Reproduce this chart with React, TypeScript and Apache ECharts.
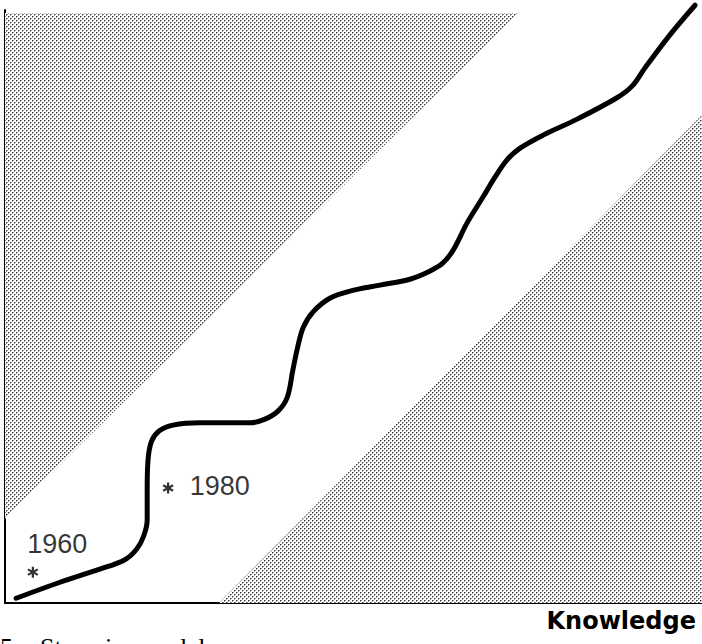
import React, { useEffect, useRef } from "react";
import * as echarts from "echarts";

// Staircase curve (knowledge on x, hidden y scale 0..100)
const curveX = [1.6, 7.9, 13.6, 17.2, 18.9, 19.9, 20.4, 20.4, 20.5, 21.0, 22.1, 24.1, 28.0, 35.2, 37.3, 39.2, 40.5, 41.3, 42.0, 42.8, 44.2, 46.6, 49.5, 53.8, 58.1, 61.0, 62.8, 64.3, 66.3, 68.6, 70.3, 72.0, 73.9, 77.2, 82.1, 87.8, 90.0, 91.8, 95.4, 99.0];
const curveY = [0.8, 3.5, 5.7, 7.3, 9.1, 11.3, 14.0, 19.1, 23.8, 27.2, 29.0, 30.0, 30.4, 30.4, 31.0, 32.4, 34.7, 39.3, 43.2, 46.5, 49.1, 51.4, 52.6, 53.6, 54.6, 56.0, 57.3, 59.5, 64.1, 68.5, 71.8, 74.7, 76.7, 78.9, 81.6, 85.2, 87.2, 90.2, 95.8, 100.8];

// Shaded (excluded) regions
const upperBandX = [0, 0, 73.7];
const upperBandY = [14.2, 99.5, 99.5];
const lowerBandX = [30.7, 100, 100];
const lowerBandY = [0, 0, 82.3];

// Year markers
const markerNames = ["1960", "1980"];
const markerX = [4.0, 23.4];
const markerY = [5.2, 19.4];
const labelX = [3.2, 26.5];
const labelY = [10.0, 19.7];

const xAxisTitle = "Knowledge";
const captionNumber = "5.";
const captionText = "Stepwise model";

const starPath =
  "path://M-1,5L1,5L1,-5L-1,-5Z M3.83,3.37L4.83,1.63L-3.83,-3.37L-4.83,-1.63Z M-4.83,1.63L-3.83,3.37L4.83,-1.63L3.83,-3.37Z";

export default function App() {
  const ref = useRef<HTMLDivElement>(null);
  useEffect(() => {
    if (!ref.current) return;
    const chart = echarts.init(ref.current, undefined, { renderer: "svg" });

    const tile = document.createElement("canvas");
    tile.width = 4;
    tile.height = 4;
    const ctx = tile.getContext("2d")!;
    ctx.fillStyle = "#ffffff";
    ctx.fillRect(0, 0, 4, 4);
    ctx.fillStyle = "#9a9a9a";
    ctx.fillRect(1, 0, 1, 1);
    ctx.fillRect(0, 1, 1, 1);
    ctx.fillRect(3, 2, 1, 1);
    ctx.fillRect(2, 3, 1, 1);
    ctx.fillStyle = "#3a3a3a";
    ctx.fillRect(0, 0, 1, 1);
    ctx.fillRect(2, 2, 1, 1);
    const pattern: any = { image: tile, repeat: "repeat" };

    const bands = [
      { x: upperBandX, y: upperBandY },
      { x: lowerBandX, y: lowerBandY },
    ];

    chart.setOption({
      animation: false,
      backgroundColor: "#ffffff",
      grid: { left: 5, right: 0, top: 10, bottom: 41 },
      xAxis: {
        type: "value",
        min: 0,
        max: 100,
        axisLine: { show: true, onZero: false, lineStyle: { color: "#000", width: 2 } },
        axisTick: { show: false },
        axisLabel: { show: false },
        splitLine: { show: false },
      },
      yAxis: {
        type: "value",
        min: 0,
        max: 100,
        axisLine: { show: true, onZero: false, lineStyle: { color: "#000", width: 2 } },
        axisTick: { show: false },
        axisLabel: { show: false },
        splitLine: { show: false },
      },
      series: [
        {
          type: "custom",
          data: bands.map((_, i) => i),
          silent: true,
          z: 1,
          renderItem: (params: any, api: any) => {
            const b = bands[params.dataIndex];
            const points = b.x.map((x, i) => api.coord([x, b.y[i]]));
            return { type: "polygon", shape: { points }, style: { fill: pattern } };
          },
        },
        {
          type: "line",
          data: curveX.map((x, i) => [x, curveY[i]]),
          smooth: 0.35,
          showSymbol: false,
          clip: false,
          z: 3,
          lineStyle: { color: "#000", width: 5, cap: "round", join: "round" },
        },
        {
          type: "scatter",
          data: markerX.map((x, i) => [x, markerY[i]]),
          symbol: starPath,
          symbolSize: 11,
          itemStyle: { color: "#000" },
          z: 4,
        },
        {
          type: "scatter",
          data: labelX.map((x, i) => ({ value: [x, labelY[i]], name: markerNames[i] })),
          symbolSize: 1,
          itemStyle: { color: "rgba(0,0,0,0)" },
          z: 4,
          label: {
            show: true,
            position: "inside",
            align: "left",
            verticalAlign: "middle",
            formatter: (p: any) => p.name,
            color: "#000",
            fontFamily: "Liberation Sans",
            fontSize: 27,
          },
        },
      ],
      graphic: [
        {
          type: "text",
          x: 696,
          y: 621,
          style: {
            text: xAxisTitle,
            fill: "#000",
            font: 'bold 24px "DejaVu Sans"',
            textAlign: "right",
            textVerticalAlign: "middle",
          },
        },
        {
          type: "text",
          x: 0,
          y: 647,
          style: {
            text: captionNumber,
            fill: "#000",
            font: '26px "Liberation Serif"',
            textAlign: "left",
            textVerticalAlign: "middle",
          },
        },
        {
          type: "text",
          x: 40,
          y: 647,
          style: {
            text: captionText,
            fill: "#000",
            font: '26px "Liberation Serif"',
            textAlign: "left",
            textVerticalAlign: "middle",
          },
        },
      ],
    });
    return () => chart.dispose();
  }, []);
  return (
    <div
      ref={ref}
      style={{ position: "fixed", left: 0, top: 0, width: 702, height: 644, background: "#fff" }}
    />
  );
}
